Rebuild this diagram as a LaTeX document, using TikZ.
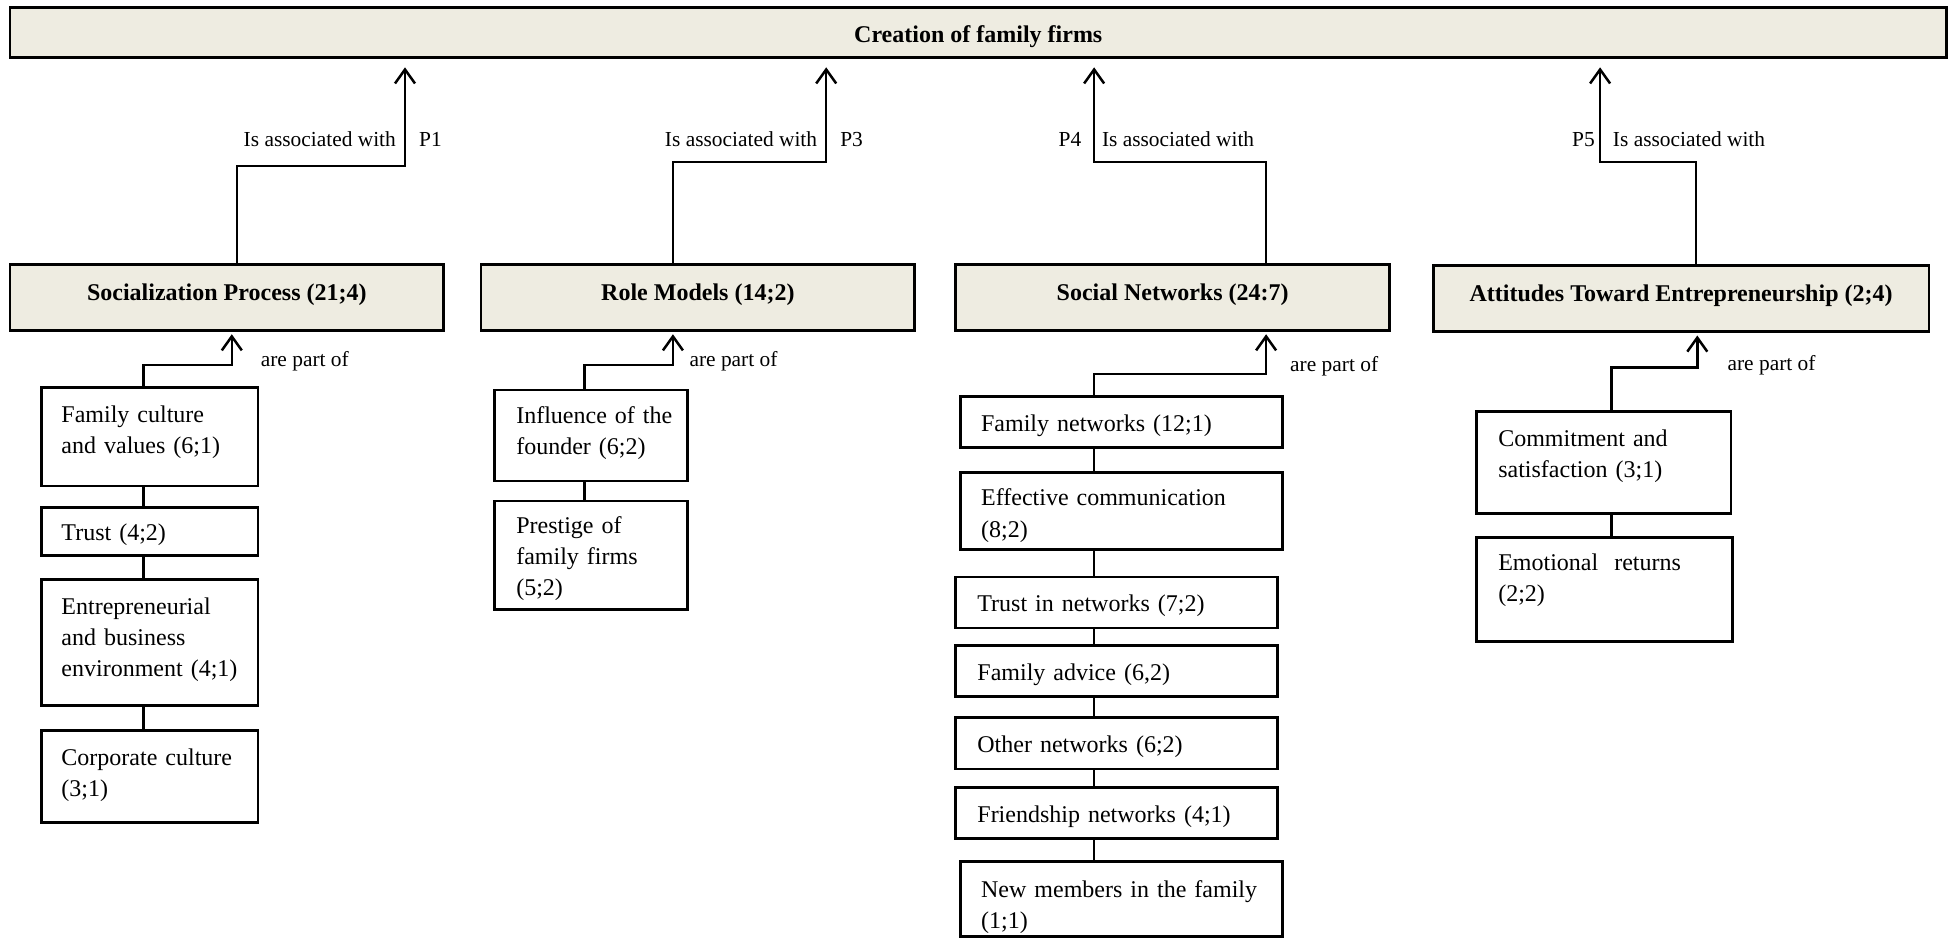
\documentclass[tikz,border=0pt]{standalone}
\usepackage{fontspec}
\setmainfont{Liberation Serif}
\usetikzlibrary{fit,arrows.meta}
\definecolor{panel}{HTML}{EEECE1}
\begin{document}
\begin{tikzpicture}[x=0.6231pt,y=-0.6231pt,
  frame/.style={draw, line width=1.4pt, inner sep=0pt, outer sep=0pt},
  headbox/.style={frame, fill=panel},
  itembox/.style={frame},
  headtext/.style={font=\bfseries\fontsize{12}{14}\selectfont, inner sep=0pt, anchor=base, yshift=-1.2pt},
  itemtext/.style={font=\fontsize{12}{15.6}\selectfont, inner sep=0pt, anchor=base west, text width=150pt, align=left, yshift=-1.2pt},
  note/.style={font=\fontsize{10.7}{13}\selectfont, inner sep=0pt, yshift=-1.2pt},
  wire/.style={line width=1.25pt},
  assoc/.style={wire, -{Straight Barb[length=7pt,width=10pt]}, shorten >=5pt},
  partof/.style={wire, -{Straight Barb[length=7pt,width=10pt]}, shorten >=2pt},
]
\useasboundingbox (0,0) rectangle (1568,753);

% outcome
\node[headbox, fit={(8,6) (1562,46)}] (top) {};
\node[headtext] (top-t) at (785,32) {Creation of family firms};

% main factors
\node[headbox, fit={(8,212) (356,265)}] (sp) {};
\node[headtext] (sp-t) at (182,239) {Socialization Process (21;4)};
\node[headbox, fit={(386,212) (734,265)}] (rm) {};
\node[headtext] (rm-t) at (560,239) {Role Models (14;2)};
\node[headbox, fit={(767,212) (1115,265)}] (sn) {};
\node[headtext] (sn-t) at (941,239) {Social Networks (24:7)};
\node[headbox, fit={(1150,213) (1548,266)}] (at) {};
\node[headtext] (at-t) at (1349,240) {Attitudes Toward Entrepreneurship (2;4)};

% socialization items
\node[itembox, fit={(33,311) (207,390)}] (fc) {};
\node[itemtext] (fc-t) at (49,337) {Family culture\\and values (6;1)};
\node[itembox, fit={(33,407) (207,446)}] (tr) {};
\node[itemtext] (tr-t) at (49,432) {Trust (4;2)};
\node[itembox, fit={(33,465) (207,566)}] (eb) {};
\node[itemtext] (eb-t) at (49,491) {Entrepreneurial\\and business\\environment (4;1)};
\node[itembox, fit={(33,586) (207,660)}] (cc) {};
\node[itemtext] (cc-t) at (49,612) {Corporate culture\\(3;1)};

% role model items
\node[itembox, fit={(397,313) (552,386)}] (inf) {};
\node[itemtext] (inf-t) at (414,338) {Influence of the\\founder (6;2)};
\node[itembox, fit={(397,402) (552,489)}] (pr) {};
\node[itemtext] (pr-t) at (414,426) {Prestige of\\family firms\\(5;2)};

% social network items
\node[itembox, fit={(771,318) (1029,359)}] (fn) {};
\node[itemtext] (fn-t) at (787,344) {Family networks (12;1)};
\node[itembox, fit={(771,379) (1029,441)}] (ec) {};
\node[itemtext] (ec-t) at (787,404) {Effective communication\\(8;2)};
\node[itembox, fit={(767,463) (1025,504)}] (tn) {};
\node[itemtext] (tn-t) at (784,489) {Trust in networks (7;2)};
\node[itembox, fit={(767,518) (1025,559)}] (fa) {};
\node[itemtext] (fa-t) at (784,544) {Family advice (6,2)};
\node[itembox, fit={(767,576) (1025,617)}] (on) {};
\node[itemtext] (on-t) at (784,602) {Other networks (6;2)};
\node[itembox, fit={(767,632) (1025,673)}] (fr) {};
\node[itemtext] (fr-t) at (784,658) {Friendship networks (4;1)};
\node[itembox, fit={(771,691) (1029,751.5)}] (nm) {};
\node[itemtext] (nm-t) at (787,718) {New members in the family\\(1;1)};

% attitude items
\node[itembox, fit={(1185,330) (1389,412)}] (cs) {};
\node[itemtext] (cs-t) at (1202,356) {Commitment and\\satisfaction (3;1)};
\node[itembox, fit={(1185,431) (1390,515)}] (er) {};
\node[itemtext] (er-t) at (1202,456) {Emotional\ \ returns\\(2;2)};

% propositions
\draw[assoc] (sp.north -| 190,0) |- (325,133) -- (top.south -| 325,0);
\draw[assoc] (rm.north -| 540,0) |- (663,130) -- (top.south -| 663,0);
\draw[assoc] (sn.north -| 1016,0) |- (878,130) -- (top.south -| 878,0);
\draw[assoc] (at.north -| 1361,0) |- (1284,130) -- (top.south -| 1284,0);
\node[note, anchor=base east] (a1) at (318,116) {Is associated with};
\node[note, anchor=base west] (p1) at (336,116) {P1};
\node[note, anchor=base east] (a3) at (656,116) {Is associated with};
\node[note, anchor=base west] (p3) at (674,116) {P3};
\node[note, anchor=base east] (p4) at (868,116) {P4};
\node[note, anchor=base west] (a4) at (884,116) {Is associated with};
\node[note, anchor=base east] (p5) at (1280,116) {P5};
\node[note, anchor=base west] (a5) at (1294,116) {Is associated with};

% membership arrows
\draw[partof] (fc.north -| 115,0) |- (186,293) -- (sp.south -| 186,0);
\draw[partof] (inf.north -| 469,0) |- (540,293) -- (rm.south -| 540,0);
\draw[partof] (fn.north -| 878,0) |- (1016,300) -- (sn.south -| 1016,0);
\draw[partof] (cs.north -| 1293,0) |- (1362,295) -- (at.south -| 1362,0);
\node[note, anchor=base west] (b1) at (209,292) {are part of};
\node[note, anchor=base west] (b2) at (553,292) {are part of};
\node[note, anchor=base west] (b3) at (1035,296) {are part of};
\node[note, anchor=base west] (b4) at (1386,295) {are part of};

% item chains
\draw[wire] (fc.south -| 115,0) -- (tr.north -| 115,0);
\draw[wire] (tr.south -| 115,0) -- (eb.north -| 115,0);
\draw[wire] (eb.south -| 115,0) -- (cc.north -| 115,0);
\draw[wire] (inf.south -| 469,0) -- (pr.north -| 469,0);
\draw[wire] (fn.south -| 878,0) -- (ec.north -| 878,0);
\draw[wire] (ec.south -| 878,0) -- (tn.north -| 878,0);
\draw[wire] (tn.south -| 878,0) -- (fa.north -| 878,0);
\draw[wire] (fa.south -| 878,0) -- (on.north -| 878,0);
\draw[wire] (on.south -| 878,0) -- (fr.north -| 878,0);
\draw[wire] (fr.south -| 878,0) -- (nm.north -| 878,0);
\draw[wire] (cs.south -| 1293,0) -- (er.north -| 1293,0);
\end{tikzpicture}
\end{document}
